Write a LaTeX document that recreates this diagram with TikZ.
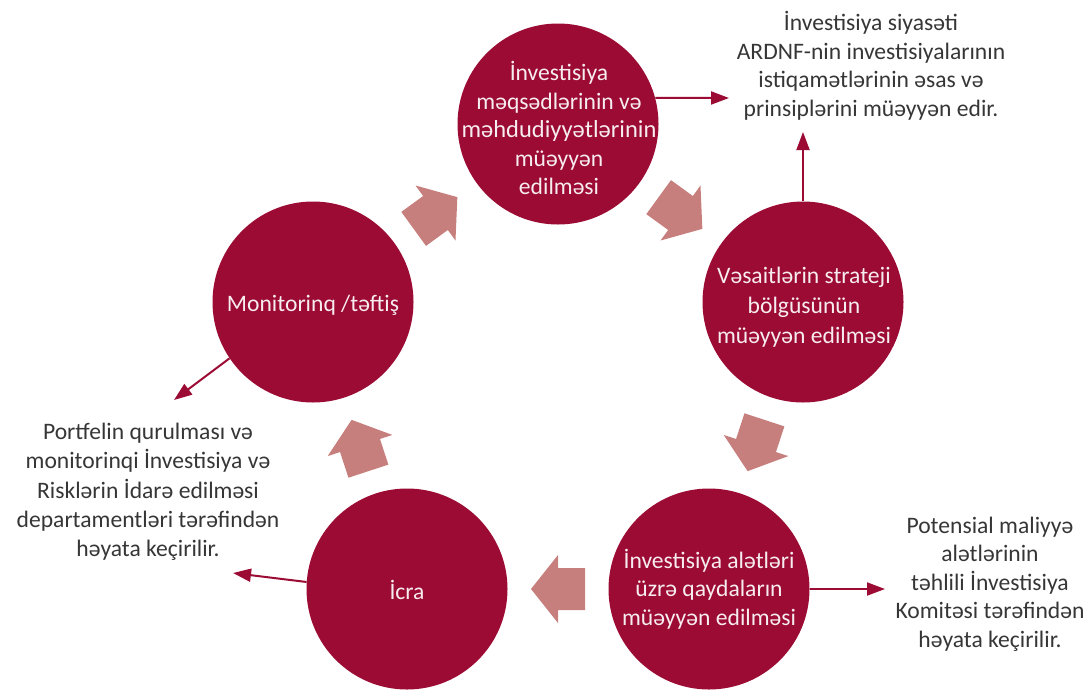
\documentclass[tikz,border=0pt]{standalone}
\usepackage{fontspec}
\setmainfont{Carlito}
\usetikzlibrary{calc,arrows.meta}
\definecolor{circred}{HTML}{9B0B34}
\definecolor{blockpink}{HTML}{C77F7D}
\definecolor{txtgray}{HTML}{363636}
\definecolor{circtxt}{HTML}{F7ECEF}
\newcommand\blockarr[2]{%
  \path ($(#1)!0.5!(#2)$) coordinate (M-#1-#2);
  \path ($(M-#1-#2)!-27pt!(#2)$) coordinate (Tl-#1-#2);
  \path ($(M-#1-#2)!27pt!(#2)$) coordinate (Tp-#1-#2);
  \fill[blockpink] ($(Tl-#1-#2)!21pt!90:(#2)$) -- ($(M-#1-#2)!21pt!90:(#2)$) -- ($(M-#1-#2)!34pt!90:(#2)$) -- (Tp-#1-#2) -- ($(M-#1-#2)!34pt!-90:(#2)$) -- ($(M-#1-#2)!21pt!-90:(#2)$) -- ($(Tl-#1-#2)!21pt!-90:(#2)$) -- cycle;
}
\begin{document}
\begin{tikzpicture}[x=1pt,y=-1pt,
  circ/.style={circle,fill=circred,minimum size=201pt,inner sep=0pt,draw=none},
  ctext/.style={text=circtxt,align=center,font=\fontsize{23.6}{28.5}\selectfont,inner sep=0pt},
  otext/.style={text=txtgray,align=center,font=\fontsize{23.6}{28.5}\selectfont,inner sep=0pt},
  conn/.style={draw=circred,line width=2pt,-{Triangle[length=18pt,width=13pt]}}]
\useasboundingbox (0,0) rectangle (1091,689);
% circles
\node[circ] (T)  at (558,124) {};
\node[circ] (R)  at (803,302) {};
\node[circ] (BR) at (709,589) {};
\node[circ] (BL) at (407,589) {};
\node[circ] (L)  at (313,302) {};
% circle texts
\node[ctext] (Tt) at (559,128) {İnvestisiya\\məqsədlərinin və\\\fontsize{24.5}{28.5}\selectfont məhdudiyyətlərinin\\müəyyən\\edilməsi};
\node[ctext,font=\fontsize{23.6}{30}\selectfont] (Rt) at (804,307) {Vəsaitlərin strateji\\bölgüsünün\\ müəyyən edilməsi};
\node[ctext] (BRt) at (709,589) {İnvestisiya alətləri\\üzrə qaydaların\\müəyyən edilməsi};
\node[ctext] (BLt) at (407,590) {İcra};
\node[ctext] (Lt) at (313,305) {Monitorinq /təftiş};
% block arrows
\blockarr{L}{T}
\blockarr{T}{R}
\blockarr{R}{BR}
\blockarr{BR}{BL}
\blockarr{BL}{L}
% outside texts
\node[otext] (polT) at (871,66) {İnvestisiya siyasəti\\ARDNF-nin investisiyalarının\\istiqamətlərinin əsas və\\prinsiplərini müəyyən edir.};
\node[otext,font=\fontsize{23.6}{29.3}\selectfont] (portT) at (148,492) {Portfelin qurulması və\\monitorinqi İnvestisiya və\\Risklərin İdarə edilməsi\\departamentləri tərəfindən\\həyata keçirilir.};
\node[otext] (potT) at (990,584) {Potensial maliyyə\\alətlərinin\\təhlili İnvestisiya\\Komitəsi tərəfindən\\ həyata keçirilir.};
% connector end points
\coordinate (e1) at (729,98);
\coordinate (e2) at (803,132);
\coordinate (e3) at (174,400);
\coordinate (e4) at (233,573);
\coordinate (e5) at (885,589);
% connectors
\draw[conn] (T.15) -- (e1);
\draw[conn] (R.north) -- (e2);
\draw[conn] (L.214) -- (e3);
\draw[conn] (BL.176) -- (e4);
\draw[conn] (BR.east) -- (e5);
\end{tikzpicture}
\end{document}
